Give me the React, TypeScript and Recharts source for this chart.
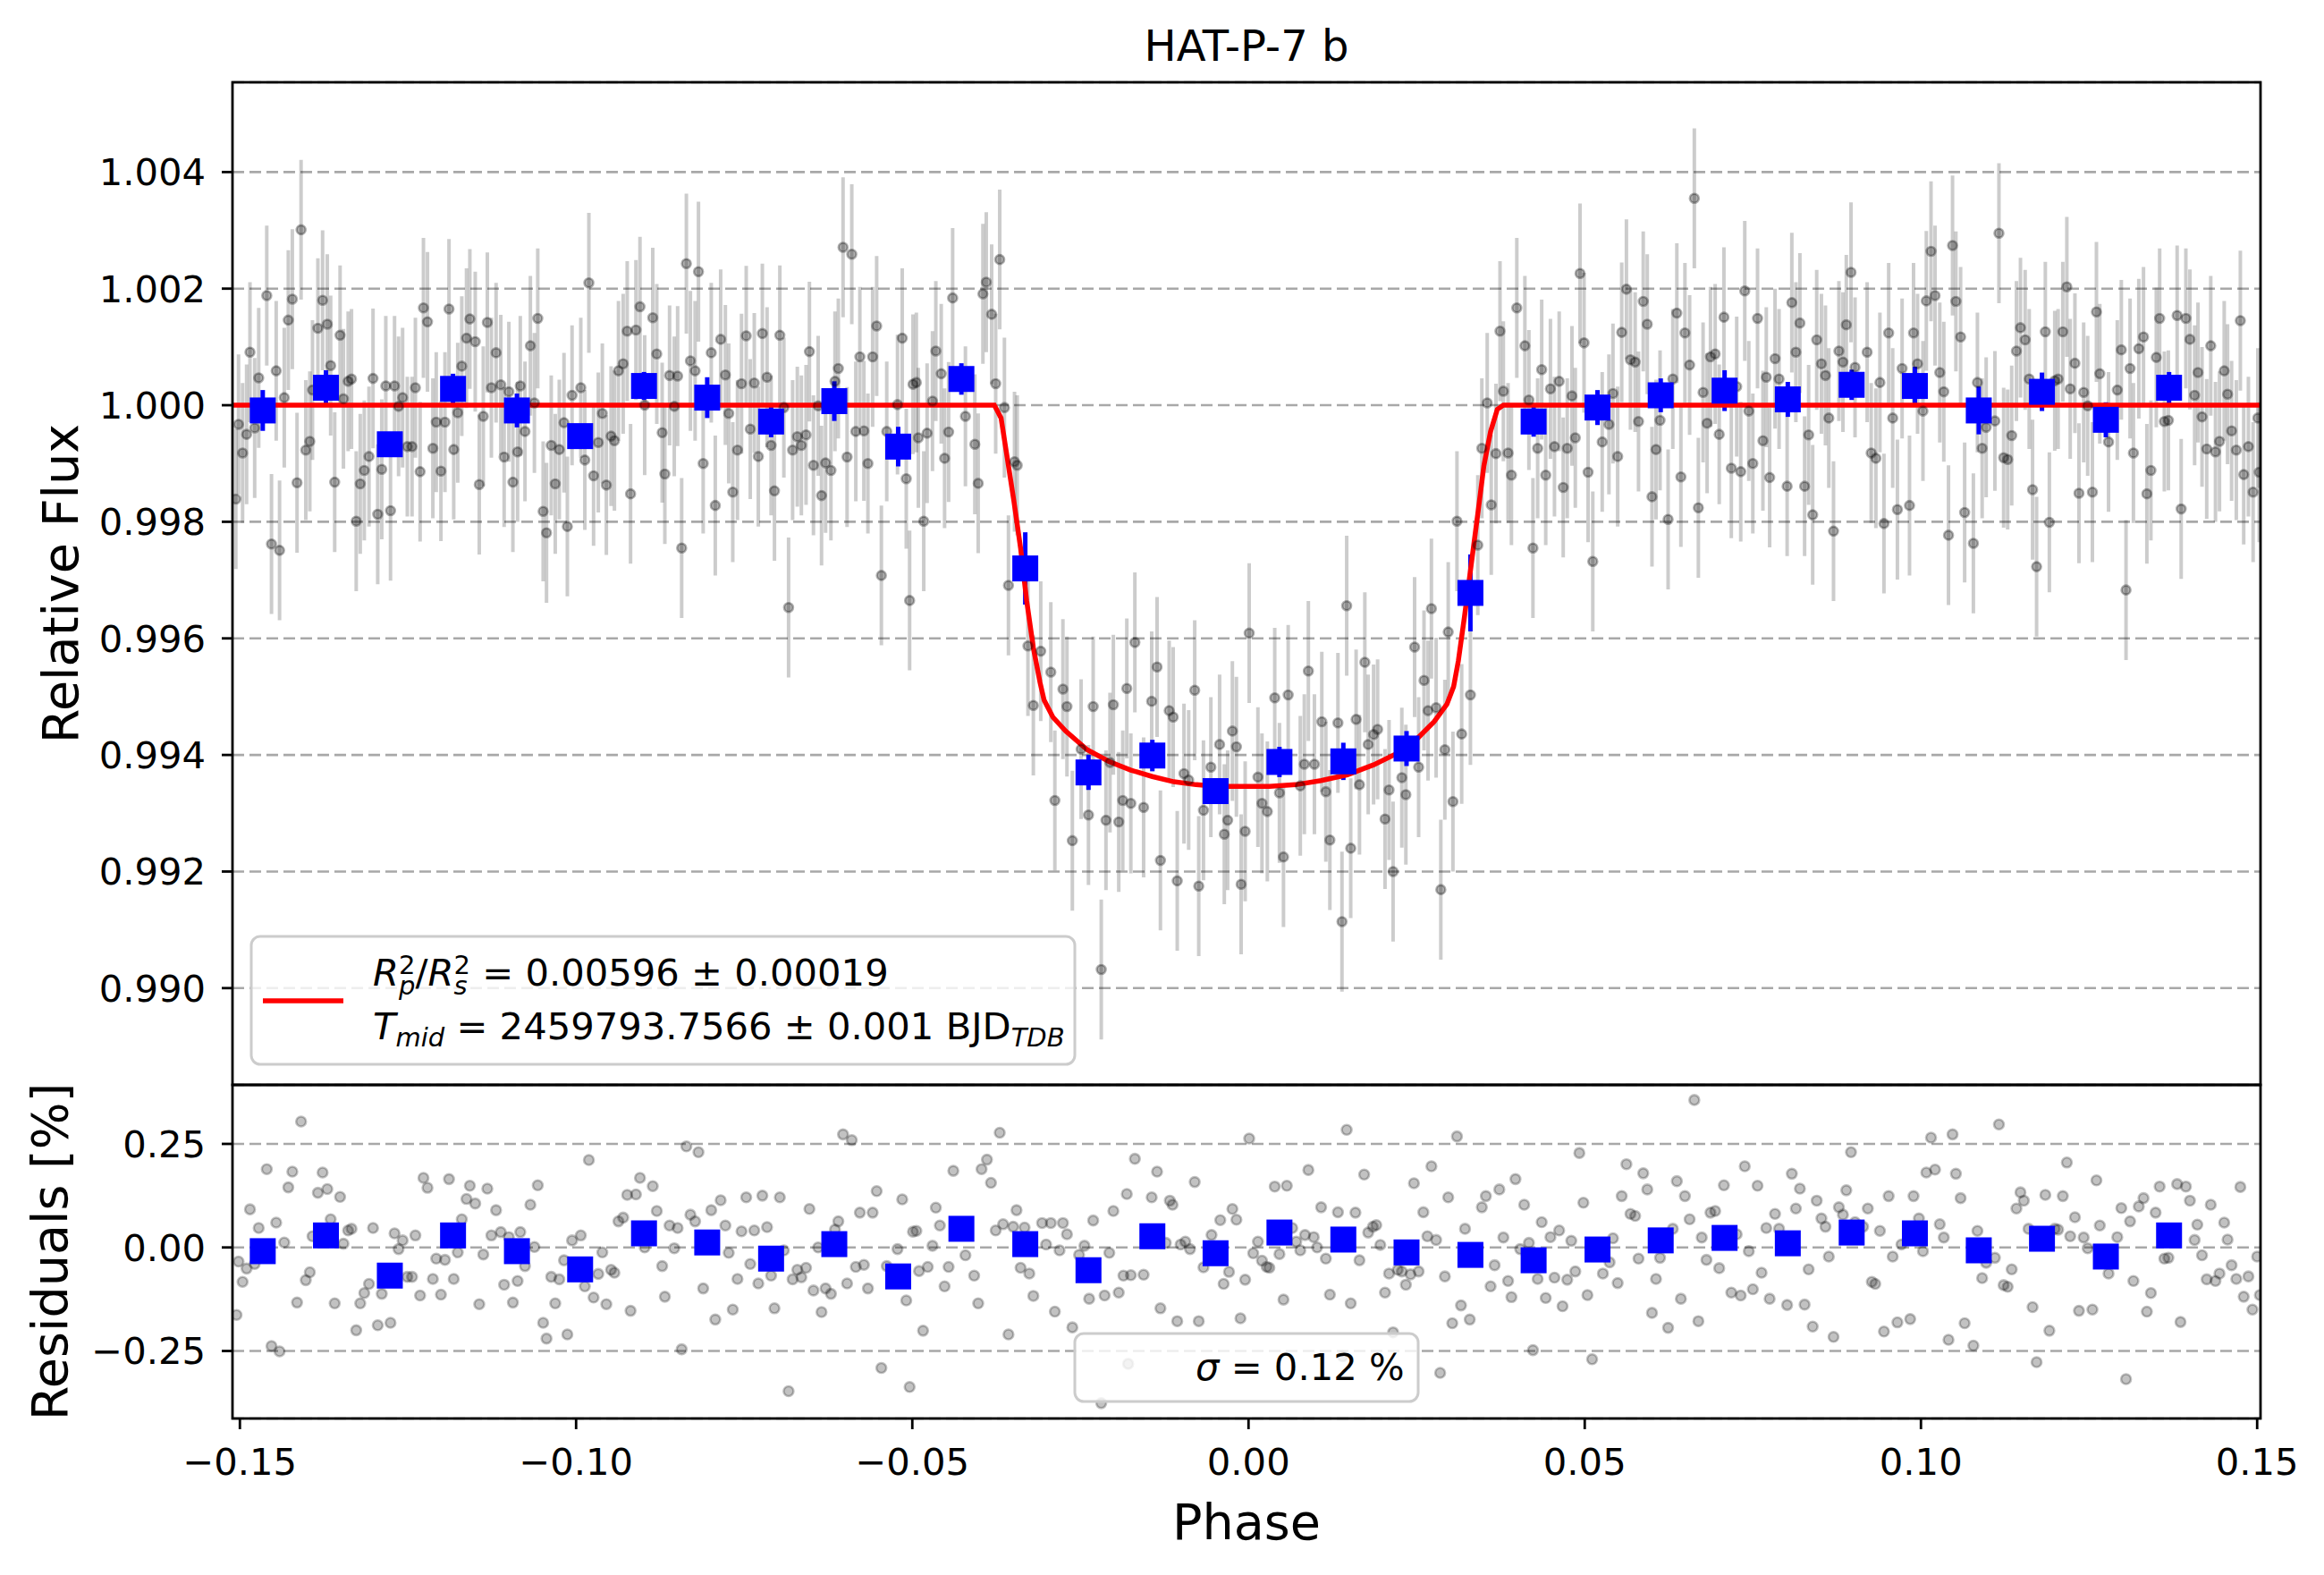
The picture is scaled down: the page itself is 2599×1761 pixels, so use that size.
import { ComposedChart, Scatter, Line, XAxis, YAxis, CartesianGrid, ErrorBar } from "recharts"

// ---- data ----

// unbinned light curve: [phase, relative flux]
const fluxPts: [number, number][] = [
    [-0.1506, 0.99839], [-0.1502, 0.99967], [-0.1496, 0.99918], [-0.1490, 0.9995], [-0.1485, 1.00091],
    [-0.1478, 0.99961], [-0.1472, 1.00047], [-0.1460, 1.00188], [-0.1453, 0.99762], [-0.1446, 1.00059],
    [-0.1441, 0.99751], [-0.1434, 1.00013], [-0.1428, 1.00146], [-0.1422, 1.00182], [-0.1415, 0.99867],
    [-0.1409, 1.00301], [-0.1402, 0.99923], [-0.1396, 0.99938], [-0.1392, 1.00026], [-0.1384, 1.00132],
    [-0.1377, 1.0018], [-0.1370, 1.00139], [-0.1365, 1.00068], [-0.1359, 0.99868], [-0.1351, 1.0012],
    [-0.1346, 1.00011], [-0.1339, 1.00041], [-0.1334, 1.00045], [-0.1327, 0.99801], [-0.1321, 0.99865],
    [-0.1315, 0.99888], [-0.1308, 0.99912], [-0.1302, 1.00046], [-0.1295, 0.99813], [-0.1289, 0.9989],
    [-0.1283, 1.00033], [-0.1276, 0.99819], [-0.1270, 1.00033], [-0.1264, 0.99998], [-0.1258, 1.00013],
    [-0.1251, 0.99929], [-0.1244, 0.99929], [-0.1239, 1.0003], [-0.1232, 0.99886], [-0.1227, 1.00167],
    [-0.1221, 1.00143], [-0.1213, 0.99926], [-0.1208, 0.99971], [-0.1201, 0.99887], [-0.1195, 0.99971],
    [-0.1189, 1.00165], [-0.1182, 0.99924], [-0.1176, 0.99987], [-0.1170, 1.00067], [-0.1163, 1.00115],
    [-0.1158, 1.00148], [-0.1150, 1.00109], [-0.1144, 0.99864], [-0.1138, 0.99981], [-0.1132, 1.00142],
    [-0.1126, 1.0003], [-0.1119, 1.0009], [-0.1112, 1.00035], [-0.1107, 0.99911], [-0.1100, 1.00023],
    [-0.1094, 0.99868], [-0.1087, 0.9992], [-0.1083, 1.00033], [-0.1076, 0.99955], [-0.1068, 1.00102],
    [-0.1062, 1.00004], [-0.1057, 1.00149], [-0.1049, 0.99818], [-0.1044, 0.99781], [-0.1037, 0.99931],
    [-0.1031, 0.99865], [-0.1025, 0.99924], [-0.1018, 0.9997], [-0.1013, 0.99792], [-0.1006, 1.00017],
    [-0.0993, 1.0003], [-0.0987, 0.99906], [-0.0981, 1.0021], [-0.0974, 0.99879], [-0.0967, 0.99936],
    [-0.0961, 0.99986], [-0.0955, 0.99863], [-0.0948, 0.99947], [-0.0943, 0.99939], [-0.0937, 1.00059],
    [-0.0930, 1.00071], [-0.0924, 1.00127], [-0.0919, 0.99848], [-0.0911, 1.00129], [-0.0905, 1.00169],
    [-0.0898, 1.0], [-0.0886, 1.0015], [-0.0880, 1.00088], [-0.0872, 0.99953], [-0.0868, 0.99882],
    [-0.0861, 1.00051], [-0.0854, 0.99998], [-0.0849, 1.0005], [-0.0843, 0.99755], [-0.0836, 1.00243],
    [-0.0830, 1.00076], [-0.0823, 1.00059], [-0.0818, 1.00229], [-0.0811, 0.999], [-0.0799, 1.0009],
    [-0.0793, 0.99828], [-0.0785, 1.00113], [-0.0778, 1.00052], [-0.0773, 0.99986], [-0.0767, 0.99851],
    [-0.0760, 0.99923], [-0.0754, 1.00037], [-0.0747, 1.00119], [-0.0741, 0.99959], [-0.0735, 1.00038],
    [-0.0729, 0.99912], [-0.0723, 1.00123], [-0.0716, 1.00048], [-0.0710, 0.99931], [-0.0705, 0.99853],
    [-0.0697, 1.0012], [-0.0691, 0.99996], [-0.0684, 0.99653], [-0.0678, 0.99923], [-0.0671, 0.99946],
    [-0.0665, 0.99931], [-0.0658, 0.99949], [-0.0653, 1.00092], [-0.0647, 0.99897], [-0.0640, 0.99999],
    [-0.0635, 0.99845], [-0.0629, 0.99901], [-0.0621, 0.99888], [-0.0615, 1.00041], [-0.0610, 1.00063],
    [-0.0603, 1.00271], [-0.0597, 0.99911], [-0.0590, 1.00259], [-0.0584, 0.99955], [-0.0578, 1.00083],
    [-0.0572, 0.99956], [-0.0566, 0.999], [-0.0559, 1.00083], [-0.0553, 1.00136], [-0.0546, 0.99708],
    [-0.0538, 0.99955], [-0.0522, 1.00001], [-0.0515, 1.00115], [-0.0509, 0.99874], [-0.0504, 0.99665],
    [-0.0499, 1.00036],
    [-0.0494, 1.00039], [-0.0491, 0.99944], [-0.0483, 0.99801], [-0.0478, 0.99952], [-0.0470, 1.00007],
    [-0.0465, 1.00093], [-0.0457, 1.00054], [-0.0452, 0.99909], [-0.0446, 0.99954], [-0.0440, 1.00184],
    [-0.0421, 0.99981], [-0.0407, 0.99933], [-0.0402, 0.99866], [-0.0395, 1.00191], [-0.0390, 1.00211],
    [-0.0382, 1.00156], [-0.0376, 1.00037], [-0.0370, 1.0025], [-0.0363, 0.99996], [-0.0357, 0.99691],
    [-0.0348, 0.99903], [-0.0344, 0.99897], [-0.0328, 0.99587], [-0.0320, 0.99485], [-0.0309, 0.99578],
    [-0.0294, 0.99542], [-0.0288, 0.99322], [-0.0276, 0.99513], [-0.0270, 0.99483], [-0.0262, 0.99253],
    [-0.0249, 0.9941], [-0.0238, 0.99297], [-0.0231, 0.99483], [-0.0219, 0.99032], [-0.0212, 0.99288],
    [-0.0206, 0.99387], [-0.0201, 0.99486], [-0.0193, 0.99285], [-0.0187, 0.99322], [-0.0181, 0.99514],
    [-0.0175, 0.99317], [-0.0169, 0.99593], [-0.0156, 0.9931], [-0.0144, 0.99492], [-0.0136, 0.99551],
    [-0.0131, 0.99219], [-0.0118, 0.99476], [-0.0112, 0.99465], [-0.0106, 0.99184], [-0.0096, 0.99368],
    [-0.0089, 0.99357], [-0.0080, 0.99511], [-0.0074, 0.99175], [-0.0067, 0.99305], [-0.0056, 0.99379],
    [-0.0043, 0.99418], [-0.0036, 0.99264], [-0.0031, 0.99288], [-0.0024, 0.99441], [-0.0018, 0.99414],
    [-0.0011, 0.99178], [-0.0005, 0.99269], [0.0001, 0.99609], [0.0014, 0.99362], [0.0020, 0.99317],
    [0.0028, 0.99303], [0.0039, 0.99498], [0.0046, 0.99335], [0.0052, 0.99225], [0.0059, 0.99503],
    [0.0077, 0.99347], [0.0083, 0.99384], [0.0089, 0.99544], [0.0098, 0.99384], [0.0109, 0.99457],
    [0.0115, 0.99337], [0.0121, 0.99254], [0.0133, 0.99455], [0.0139, 0.99114], [0.0146, 0.99656],
    [0.0152, 0.9924], [0.0160, 0.99461], [0.0165, 0.99349], [0.0173, 0.99559], [0.0178, 0.99418],
    [0.0186, 0.99435], [0.0192, 0.99444], [0.0203, 0.9929], [0.0209, 0.9934], [0.0215, 0.992],
    [0.0228, 0.99361], [0.0234, 0.99332], [0.0247, 0.99585], [0.0253, 0.99379], [0.0261, 0.99528],
    [0.0267, 0.99476], [0.0272, 0.99651], [0.0279, 0.99481], [0.0286, 0.99169], [0.0292, 0.99409],
    [0.0297, 0.99611], [0.0304, 0.9932], [0.0310, 0.99801], [0.0317, 0.99436], [0.0330, 0.99503],
    [0.0341, 0.9976], [0.0347, 0.99926], [0.0355, 1.00004], [0.0361, 0.99829], [0.0368, 0.99917],
    [0.0374, 1.00127], [0.0379, 1.00024], [0.0386, 0.99918], [0.0391, 0.9988], [0.0399, 1.00167],
    [0.0411, 1.00102], [0.0417, 1.00009], [0.0423, 0.99755], [0.0430, 0.99926], [0.0436, 1.00061],
    [0.0442, 0.9988], [0.0449, 1.00028], [0.0455, 0.99929], [0.0462, 1.00041], [0.0468, 0.99859],
    [0.0474, 0.99926], [0.0481, 1.00016], [0.0486, 0.99944], [0.0493, 1.00226], [0.0499, 1.00107],
    [0.0505, 0.99885], [0.0512, 0.99732],
    [0.0526, 0.99937], [0.0536, 0.99967], [0.0542, 1.0002], [0.0549, 0.99912], [0.0555, 1.00125],
    [0.0562, 1.00199], [0.0568, 1.00078], [0.0575, 1.00074], [0.0580, 0.99972], [0.0587, 1.00178],
    [0.0593, 1.00139], [0.0600, 0.99843], [0.0606, 0.99924], [0.0612, 0.99974], [0.0624, 0.99804],
    [0.0631, 1.00045], [0.0637, 1.00158], [0.0643, 0.99877], [0.0649, 1.00124], [0.0656, 1.00069],
    [0.0663, 1.00355], [0.0669, 0.99824], [0.0676, 1.00022], [0.0682, 0.99969], [0.0687, 1.00083],
    [0.0694, 1.00088], [0.0700, 0.9995], [0.0707, 1.00151], [0.0718, 0.99892], [0.0726, 1.00032],
    [0.0732, 0.99886], [0.0738, 1.00196], [0.0744, 0.9999], [0.0750, 0.999], [0.0757, 1.00149],
    [0.0765, 0.99939], [0.0770, 1.00048], [0.0775, 0.99876], [0.0783, 1.0008], [0.0789, 1.00045],
    [0.0801, 0.99861], [0.0808, 1.00176], [0.0814, 1.00091], [0.0820, 1.00141], [0.0827, 0.99861],
    [0.0833, 0.99949], [0.0839, 0.99812], [0.0845, 1.00112], [0.0852, 1.00071], [0.0858, 1.00051],
    [0.0863, 0.99978], [0.0870, 0.99784], [0.0878, 1.00093], [0.0884, 1.00074], [0.0889, 1.00138],
    [0.0896, 1.00228], [0.0902, 1.00065], [0.0920, 1.00091], [0.0926, 0.99918], [0.0933, 0.99909],
    [0.0939, 1.00039], [0.0945, 0.99797], [0.0952, 1.00124], [0.0958, 0.99978], [0.0965, 0.99821],
    [0.0972, 1.00063], [0.0983, 0.99828], [0.0989, 1.00124], [0.0995, 1.00071], [0.1003, 0.9999],
    [0.1008, 1.00179], [0.1015, 1.00264], [0.1021, 1.00188], [0.1028, 1.00056], [0.1034, 1.00023],
    [0.1041, 0.99777], [0.1047, 1.00274], [0.1052, 1.00178], [0.1059, 1.00117], [0.1065, 0.99816],
    [0.1078, 0.99763], [0.1084, 1.00039], [0.1091, 0.99926], [0.1097, 0.99962], [0.1110, 0.99973],
    [0.1116, 1.00295], [0.1123, 0.9991], [0.1129, 0.99907], [0.1135, 0.99948], [0.1142, 1.00093],
    [0.1148, 1.00133], [0.1155, 1.00112], [0.1161, 1.00045], [0.1166, 0.99855], [0.1172, 0.99723],
    [0.1185, 1.00126], [0.1191, 0.99799], [0.1199, 1.00042], [0.1204, 1.00045], [0.1211, 1.00126],
    [0.1217, 1.00203], [0.1222, 1.00028], [0.1229, 1.00072], [0.1235, 0.99849], [0.1242, 1.00022],
    [0.1248, 0.99999], [0.1255, 0.99851], [0.1261, 1.0016], [0.1266, 1.00054], [0.1279, 0.99937],
    [0.1292, 1.00026], [0.1298, 1.00095], [0.1305, 0.99683], [0.1311, 1.00063], [0.1316, 0.99918],
    [0.1324, 1.00097], [0.1331, 1.00117], [0.1336, 0.99848], [0.1342, 0.99888], [0.1350, 1.00082],
    [0.1355, 1.00149], [0.1362, 0.99972], [0.1368, 0.99974], [0.1381, 1.00154], [0.1387, 0.99822],
    [0.1394, 1.00149], [0.1400, 1.00113], [0.1407, 1.00017], [0.1412, 1.00056], [0.1418, 0.9998],
    [0.1425, 0.99925], [0.1431, 1.00102], [0.1438, 0.9992], [0.1444, 0.99938], [0.1451, 1.00059],
    [0.1456, 1.00019], [0.1462, 0.99956], [0.1469, 0.99923], [0.1475, 1.00145], [0.1480, 0.99881],
    [0.1487, 0.99929], [0.1494, 0.99851], [0.1501, 0.99978], [0.1503, 0.99885],
]
const FLUX_ERR = 0.0012

// residuals of the unbinned points: [phase, residual in %]
const residPts: [number, number][] = [
    [-0.1505, -0.163], [-0.1502, -0.034], [-0.1496, -0.083], [-0.1490, -0.051], [-0.1485, 0.092],
    [-0.1478, -0.040], [-0.1472, 0.047], [-0.1460, 0.189], [-0.1453, -0.238], [-0.1446, 0.060],
    [-0.1441, -0.251], [-0.1434, 0.012], [-0.1428, 0.145], [-0.1422, 0.183], [-0.1415, -0.133],
    [-0.1409, 0.304], [-0.1402, -0.079], [-0.1396, -0.060], [-0.1392, 0.027], [-0.1384, 0.132],
    [-0.1377, 0.181], [-0.1370, 0.141], [-0.1365, 0.068], [-0.1359, -0.135], [-0.1351, 0.122],
    [-0.1346, 0.009], [-0.1339, 0.041], [-0.1334, 0.045], [-0.1327, -0.200], [-0.1321, -0.135],
    [-0.1315, -0.110], [-0.1308, -0.088], [-0.1302, 0.047], [-0.1295, -0.188], [-0.1289, -0.112],
    [-0.1276, -0.182], [-0.1270, 0.034], [-0.1264, -0.004], [-0.1258, 0.017], [-0.1251, -0.071],
    [-0.1244, -0.071], [-0.1239, 0.029], [-0.1232, -0.116], [-0.1227, 0.168], [-0.1221, 0.144],
    [-0.1213, -0.076], [-0.1208, -0.027], [-0.1201, -0.114], [-0.1195, -0.030], [-0.1189, 0.165],
    [-0.1182, -0.076], [-0.1176, -0.012], [-0.1170, 0.068], [-0.1163, 0.117], [-0.1158, 0.149],
    [-0.1150, 0.106], [-0.1144, -0.137], [-0.1138, -0.017], [-0.1132, 0.142], [-0.1126, 0.029],
    [-0.1119, 0.090], [-0.1112, 0.037], [-0.1107, -0.090], [-0.1100, 0.025], [-0.1094, -0.133],
    [-0.1087, -0.081], [-0.1083, 0.037], [-0.1076, -0.045], [-0.1068, 0.103], [-0.1062, 0.001],
    [-0.1057, 0.150], [-0.1049, -0.182], [-0.1044, -0.220], [-0.1037, -0.071], [-0.1031, -0.135],
    [-0.1025, -0.077], [-0.1018, -0.031], [-0.1013, -0.210], [-0.1006, 0.017], [-0.0993, 0.029],
    [-0.0987, -0.094], [-0.0981, 0.211], [-0.0974, -0.121], [-0.0967, -0.064], [-0.0961, -0.012],
    [-0.0955, -0.137], [-0.0948, -0.054], [-0.0943, -0.061], [-0.0937, 0.063], [-0.0930, 0.072],
    [-0.0924, 0.127], [-0.0919, -0.153], [-0.0911, 0.128], [-0.0905, 0.168], [-0.0898, 0.000],
    [-0.0886, 0.148], [-0.0880, 0.088], [-0.0872, -0.045], [-0.0868, -0.119], [-0.0861, 0.053],
    [-0.0854, -0.002], [-0.0849, 0.047], [-0.0843, -0.246], [-0.0836, 0.244], [-0.0830, 0.079],
    [-0.0823, 0.063], [-0.0818, 0.230], [-0.0811, -0.099], [-0.0799, 0.090], [-0.0793, -0.174],
    [-0.0785, 0.114], [-0.0778, 0.053], [-0.0773, -0.013], [-0.0767, -0.150], [-0.0760, -0.076],
    [-0.0754, 0.039], [-0.0747, 0.121], [-0.0741, -0.040], [-0.0735, 0.041], [-0.0729, -0.087],
    [-0.0723, 0.125], [-0.0716, 0.049], [-0.0710, -0.068], [-0.0705, -0.147], [-0.0697, 0.121],
    [-0.0691, -0.007], [-0.0684, -0.347], [-0.0678, -0.077], [-0.0671, -0.054], [-0.0665, -0.072],
    [-0.0658, -0.049], [-0.0653, 0.093], [-0.0647, -0.104], [-0.0640, 0.000], [-0.0635, -0.156],
    [-0.0629, -0.099], [-0.0621, -0.112], [-0.0615, 0.043], [-0.0610, 0.063], [-0.0603, 0.273],
    [-0.0597, -0.087], [-0.0590, 0.259], [-0.0584, -0.047], [-0.0578, 0.084], [-0.0572, -0.042],
    [-0.0566, -0.099], [-0.0559, 0.084], [-0.0553, 0.136], [-0.0546, -0.291], [-0.0538, -0.045],
    [-0.0522, -0.004], [-0.0515, 0.116], [-0.0509, -0.128], [-0.0504, -0.337], [-0.0499, 0.038],
    [-0.0494, 0.040], [-0.0490, -0.057], [-0.0484, -0.201], [-0.0477, -0.047], [-0.0470, 0.004],
    [-0.0465, 0.096], [-0.0459, 0.053], [-0.0452, -0.094], [-0.0446, -0.047], [-0.0439, 0.185],
    [-0.0421, -0.019], [-0.0408, -0.068], [-0.0402, -0.135], [-0.0397, 0.189], [-0.0389, 0.212],
    [-0.0383, 0.156], [-0.0376, 0.041], [-0.0370, 0.277], [-0.0365, 0.056], [-0.0357, -0.210],
    [-0.0350, 0.050], [-0.0345, 0.090], [-0.0339, -0.049], [-0.0333, 0.048], [-0.0326, -0.063],
    [-0.0320, -0.117], [-0.0307, 0.059], [-0.0301, 0.007], [-0.0294, 0.059], [-0.0288, -0.155],
    [-0.0281, -0.007], [-0.0276, 0.059], [-0.0270, 0.032], [-0.0262, -0.193], [-0.0252, -0.018],
    [-0.0244, 0.004], [-0.0237, -0.124], [-0.0231, 0.065], [-0.0219, -0.376], [-0.0214, -0.116],
    [-0.0207, -0.013], [-0.0201, 0.088], [-0.0193, -0.109], [-0.0186, -0.068], [-0.0181, 0.129],
    [-0.0179, -0.281], [-0.0175, -0.067], [-0.0169, 0.214], [-0.0156, -0.066], [-0.0144, 0.121],
    [-0.0136, 0.183], [-0.0131, -0.147], [-0.0123, 0.011], [-0.0117, 0.113], [-0.0113, 0.103],
    [-0.0106, -0.178], [-0.0101, 0.007], [-0.0094, 0.014], [-0.0087, -0.004], [-0.0080, 0.158],
    [-0.0074, -0.178], [-0.0067, -0.048], [-0.0055, 0.030], [-0.0042, 0.066], [-0.0037, -0.088],
    [-0.0029, -0.059], [-0.0024, 0.093], [-0.0018, 0.067], [-0.0012, -0.171], [-0.0005, -0.078],
    [0.0001, 0.263], [0.0007, -0.014], [0.0014, 0.014], [0.0020, -0.032], [0.0027, -0.047],
    [0.0031, -0.049], [0.0039, 0.147], [0.0046, -0.016], [0.0052, -0.126], [0.0057, 0.149],
    [0.0065, 0.047], [0.0071, 0.014], [0.0077, -0.007], [0.0084, 0.030], [0.0089, 0.187],
    [0.0097, 0.025], [0.0102, 0.000], [0.0108, 0.097], [0.0115, -0.027], [0.0121, -0.114],
    [0.0133, 0.085], [0.0140, -0.263], [0.0146, 0.284], [0.0152, -0.135], [0.0159, 0.084],
    [0.0165, -0.031], [0.0172, 0.176], [0.0178, 0.036], [0.0185, 0.050], [0.0190, 0.054],
    [0.0196, 0.006], [0.0203, -0.109], [0.0209, -0.063], [0.0215, -0.205], [0.0222, -0.054],
    [0.0228, -0.058], [0.0234, -0.090], [0.0241, -0.065], [0.0246, 0.155], [0.0253, -0.058],
    [0.0260, 0.085], [0.0266, 0.027], [0.0272, 0.196], [0.0279, 0.018], [0.0285, -0.303],
    [0.0292, -0.070], [0.0297, 0.121], [0.0303, -0.183], [0.0310, 0.268], [0.0316, -0.140],
    [0.0322, 0.045], [0.0329, -0.174], [0.0347, 0.097], [0.0353, 0.124], [0.0360, -0.094],
    [0.0366, -0.043], [0.0373, 0.140], [0.0379, 0.024], [0.0386, -0.081], [0.0391, -0.120],
    [0.0397, 0.165], [0.0404, -0.004], [0.0410, 0.103], [0.0417, 0.011], [0.0423, -0.248],
    [0.0430, -0.076], [0.0436, 0.061], [0.0442, -0.122], [0.0449, 0.025], [0.0455, -0.073],
    [0.0462, 0.041], [0.0467, -0.142], [0.0474, -0.078], [0.0480, 0.016], [0.0486, -0.058],
    [0.0492, 0.228], [0.0498, 0.108], [0.0504, -0.115], [0.0511, -0.270],
    [0.0527, -0.063], [0.0537, -0.036], [0.0542, 0.022], [0.0549, -0.086], [0.0555, 0.124],
    [0.0562, 0.201], [0.0568, 0.081], [0.0575, 0.076], [0.0580, -0.027], [0.0587, 0.179],
    [0.0593, 0.140], [0.0600, -0.158], [0.0606, -0.076], [0.0612, -0.025], [0.0624, -0.194],
    [0.0631, 0.045], [0.0637, 0.160], [0.0643, -0.124], [0.0649, 0.124], [0.0656, 0.068],
    [0.0663, 0.356], [0.0669, -0.178], [0.0674, 0.024], [0.0681, -0.030], [0.0687, 0.084],
    [0.0694, 0.088], [0.0700, -0.050], [0.0707, 0.150], [0.0718, -0.109], [0.0726, 0.032],
    [0.0732, -0.116], [0.0738, 0.196], [0.0744, -0.009], [0.0750, -0.101], [0.0757, 0.149],
    [0.0763, -0.061], [0.0770, 0.047], [0.0775, -0.124], [0.0783, 0.081], [0.0789, 0.045],
    [0.0801, -0.139], [0.0808, 0.178], [0.0814, 0.094], [0.0820, 0.142], [0.0827, -0.138],
    [0.0833, -0.053], [0.0839, -0.191], [0.0845, 0.113], [0.0852, 0.070], [0.0858, 0.050],
    [0.0863, -0.022], [0.0870, -0.216], [0.0878, 0.097], [0.0884, 0.079], [0.0889, 0.138],
    [0.0896, 0.230], [0.0902, 0.061], [0.0914, 0.050], [0.0921, 0.094], [0.0927, -0.083],
    [0.0932, -0.088], [0.0939, 0.040], [0.0945, -0.203], [0.0952, 0.124], [0.0958, -0.022],
    [0.0965, -0.181], [0.0971, 0.007], [0.0984, -0.173], [0.0989, 0.124], [0.0997, 0.070],
    [0.1003, -0.009], [0.1008, 0.181], [0.1015, 0.265], [0.1021, 0.188], [0.1028, 0.056],
    [0.1034, 0.024], [0.1041, -0.223], [0.1047, 0.273], [0.1052, 0.178], [0.1059, 0.119],
    [0.1065, -0.183], [0.1078, -0.237], [0.1084, 0.040], [0.1091, -0.074], [0.1097, -0.037],
    [0.1110, -0.025], [0.1116, 0.297], [0.1123, -0.091], [0.1129, -0.095], [0.1135, -0.053],
    [0.1142, 0.094], [0.1148, 0.133], [0.1153, 0.113], [0.1160, 0.045], [0.1166, -0.144],
    [0.1172, -0.277], [0.1185, 0.127], [0.1191, -0.201], [0.1199, 0.045], [0.1204, 0.043],
    [0.1211, 0.124], [0.1217, 0.205], [0.1222, 0.027], [0.1229, 0.073], [0.1235, -0.153],
    [0.1242, 0.024], [0.1248, -0.002], [0.1255, -0.150], [0.1261, 0.162], [0.1266, 0.053],
    [0.1279, -0.063], [0.1292, 0.025], [0.1298, 0.095], [0.1305, -0.318], [0.1311, 0.063],
    [0.1316, -0.081], [0.1324, 0.099], [0.1331, 0.119], [0.1336, -0.155], [0.1342, -0.110],
    [0.1349, 0.084], [0.1355, 0.147], [0.1362, -0.027], [0.1368, -0.025], [0.1381, 0.153],
    [0.1386, -0.180], [0.1394, 0.147], [0.1400, 0.113], [0.1407, 0.018], [0.1411, 0.055],
    [0.1418, -0.019], [0.1425, -0.077], [0.1431, 0.103], [0.1438, -0.081], [0.1444, -0.063],
    [0.1451, 0.060], [0.1456, 0.019], [0.1462, -0.043], [0.1469, -0.076], [0.1475, 0.146],
    [0.1480, -0.119], [0.1487, -0.070], [0.1493, -0.150], [0.1500, -0.022], [0.1504, -0.115],
]

// binned points (blue squares)
const binPhase = [
    -0.1466, -0.1372, -0.1277, -0.1183, -0.1088, -0.0994, -0.0899, -0.0805, -0.0710, -0.0616,
    -0.0521, -0.0427, -0.0332, -0.0238, -0.0143, -0.0049, 0.0046, 0.0141, 0.0235, 0.0330,
    0.0424, 0.0519, 0.0613, 0.0708, 0.0802, 0.0897, 0.0991, 0.1086, 0.1180, 0.1275, 0.1369,
]
const binFlux = [
    0.99991, 1.0003, 0.99933, 1.00028, 0.99991, 0.99947, 1.00033, 1.00013, 0.99972, 1.00007,
    0.99929, 1.00045, 0.9972, 0.9937, 0.99399, 0.99338, 0.99388, 0.99389, 0.99411, 0.99678,
    0.99972, 0.99996, 1.00017, 1.00025, 1.0001, 1.00035, 1.00033, 0.99991, 1.00023, 0.99975, 1.0003,
]
const binErr = [
    0.00035, 0.0003, 0.0002, 0.00026, 0.00029, 0.0002, 0.00024, 0.00035, 0.00027, 0.00034,
    0.00034, 0.00027, 0.00062, 0.0003, 0.00027, 0.00022, 0.00026, 0.00032, 0.0003, 0.00066,
    0.00026, 0.0003, 0.00029, 0.00035, 0.0003, 0.00026, 0.00033, 0.00041, 0.00033, 0.0003, 0.00027,
]
const binResid = [
    -0.009, 0.029, -0.068, 0.029, -0.009, -0.053, 0.034, 0.012, -0.027, 0.008,
    -0.070, 0.045, 0.008, -0.055, 0.027, -0.014, 0.036, 0.019, -0.012, -0.018,
    -0.031, -0.005, 0.017, 0.023, 0.010, 0.036, 0.034, -0.007, 0.021, -0.022, 0.029,
]

// transit model (red curve)
const modelPts: [number, number][] = [
    [-0.1511, 1.0], [-0.0378, 1.0], [-0.0368, 0.99978], [-0.0359, 0.99911], [-0.0349, 0.99836],
    [-0.0339, 0.99755], [-0.0330, 0.99665], [-0.0320, 0.99584], [-0.0310, 0.99524], [-0.0304, 0.99494],
    [-0.0291, 0.99465], [-0.0272, 0.99441], [-0.0240, 0.99409], [-0.0208, 0.99389], [-0.0175, 0.99374],
    [-0.0143, 0.99363], [-0.0111, 0.99354], [-0.0078, 0.99349], [-0.0046, 0.99346], [-0.0007, 0.99346],
    [0.0031, 0.99346], [0.0070, 0.99349], [0.0108, 0.99356], [0.0147, 0.99366], [0.0186, 0.99383],
    [0.0218, 0.99401], [0.0250, 0.99427], [0.0276, 0.99457], [0.0295, 0.99487], [0.0305, 0.99517],
    [0.0312, 0.99561], [0.0321, 0.99636], [0.0331, 0.99725], [0.0341, 0.99814], [0.0350, 0.99896],
    [0.0360, 0.99955], [0.0370, 0.99993], [0.0379, 1.0], [0.1505, 1.0],
]

const phaseTicks = [-0.15, -0.1, -0.05, 0, 0.05, 0.1, 0.15]
const fluxTicks = [0.99, 0.992, 0.994, 0.996, 0.998, 1.0, 1.002, 1.004]
const residTicks = [-0.25, 0, 0.25]

// ---- layout ----
const W = 2599
const H = 1761
const LEFT = 260
const RIGHT = 2528
const TOP = 92
const SPLIT = 1213
const BOTTOM = 1586
const FONT = "DejaVu Sans"
const TICK_FS = 41.7
const LABEL_FS = 55.6

const fluxData = fluxPts.map(([x, y]) => ({ x, y, e: FLUX_ERR }))
const residData = residPts.map(([x, y]) => ({ x, y }))
const binData = binPhase.map((x, i) => ({ x, y: binFlux[i], e: binErr[i] }))
const binResidData = binPhase.map((x, i) => ({ x, y: binResid[i] }))
const modelData = modelPts.map(([x, y]) => ({ x, y }))

const signed = (d: number) => (v: number) => (v < 0 ? "\u2212" : "") + Math.abs(v).toFixed(d)

const grayDot = (r: number, a: number) => (p: any) =>
    p.cx == null || isNaN(p.cx) ? <g /> : (
        <circle cx={p.cx} cy={p.cy} r={r} fill={`rgba(0,0,0,${a})`} stroke={`rgba(0,0,0,${a})`} strokeWidth={2.6} />
    )

const blueSquare = (p: any) =>
    p.cx == null || isNaN(p.cx) ? <g /> : (
        <rect x={p.cx - 14.5} y={p.cy - 14.5} width={29} height={29} fill="#0000ff" />
    )

const tickStyle = { fill: "#000", fontSize: TICK_FS, fontFamily: FONT }
const tickLine = { stroke: "#000", strokeWidth: 2.8 }

export default function App() {
    const xDomain: [number, number] = [-0.1511, 0.1505]
    return (
        <div style={{ position: "absolute", left: 0, top: 0, width: W, height: H, background: "#fff", fontFamily: FONT }}>
            <div style={{ position: "absolute", left: 0, top: 0 }}>
                <ComposedChart width={W} height={SPLIT} margin={{ top: TOP, right: W - RIGHT, bottom: 0, left: LEFT - 150 }}>
                    <CartesianGrid vertical={false} stroke="#a8a8a8" strokeWidth={2.6} strokeDasharray="13 6" />
                    <XAxis type="number" dataKey="x" domain={xDomain} allowDataOverflow hide ticks={phaseTicks} />
                    <YAxis
                        type="number"
                        width={150}
                        domain={[0.98834, 1.00554]}
                        allowDataOverflow
                        ticks={fluxTicks}
                        interval={0}
                        tickFormatter={(v: number) => v.toFixed(3)}
                        tick={tickStyle}
                        tickLine={tickLine}
                        tickSize={12}
                        tickMargin={18}
                        axisLine={false}
                    />
                    <Scatter data={fluxData} dataKey="y" shape={grayDot(5, 0.3)} isAnimationActive={false}>
                        <ErrorBar dataKey="e" direction="y" width={0} stroke="rgba(0,0,0,0.2)" strokeWidth={4} isAnimationActive={false} />
                    </Scatter>
                    <Scatter data={binData} dataKey="y" shape={blueSquare} isAnimationActive={false}>
                        <ErrorBar dataKey="e" direction="y" width={0} stroke="#0000ff" strokeWidth={5} isAnimationActive={false} />
                    </Scatter>
                    <Line data={modelData} dataKey="y" type="linear" stroke="#ff0000" strokeWidth={5.5} dot={false} activeDot={false} isAnimationActive={false} />
                </ComposedChart>
            </div>
            <div style={{ position: "absolute", left: 0, top: SPLIT }}>
                <ComposedChart width={W} height={H - SPLIT} margin={{ top: 0, right: W - RIGHT, bottom: 0, left: LEFT - 150 }}>
                    <CartesianGrid vertical={false} stroke="#a8a8a8" strokeWidth={2.6} strokeDasharray="13 6" />
                    <XAxis
                        type="number"
                        dataKey="x"
                        domain={xDomain}
                        allowDataOverflow
                        ticks={phaseTicks}
                        interval={0}
                        height={H - BOTTOM}
                        tickFormatter={signed(2)}
                        tick={tickStyle}
                        tickLine={tickLine}
                        tickSize={12}
                        tickMargin={21}
                        axisLine={false}
                    />
                    <YAxis
                        type="number"
                        width={150}
                        domain={[-0.413, 0.3925]}
                        allowDataOverflow
                        ticks={residTicks}
                        interval={0}
                        tickFormatter={signed(2)}
                        tick={tickStyle}
                        tickLine={tickLine}
                        tickSize={12}
                        tickMargin={18}
                        axisLine={false}
                    />
                    <Scatter data={residData} dataKey="y" shape={grayDot(5.5, 0.24)} isAnimationActive={false} />
                    <Scatter data={binResidData} dataKey="y" shape={blueSquare} isAnimationActive={false} />
                </ComposedChart>
            </div>
            <svg
                width={W}
                height={H}
                style={{ position: "absolute", left: 0, top: 0, pointerEvents: "none" }}
                fontFamily={FONT}
            >
                {/* axes frames */}
                <rect x={LEFT} y={TOP} width={RIGHT - LEFT} height={SPLIT - TOP} fill="none" stroke="#000" strokeWidth={2.8} />
                <rect x={LEFT} y={SPLIT} width={RIGHT - LEFT} height={BOTTOM - SPLIT} fill="none" stroke="#000" strokeWidth={2.8} />

                {/* titles */}
                <text x={(LEFT + RIGHT) / 2} y={68} textAnchor="middle" fontSize={48}>HAT-P-7 b</text>
                <text transform={`translate(87, ${(TOP + SPLIT) / 2}) rotate(-90)`} textAnchor="middle" fontSize={LABEL_FS}>Relative Flux</text>
                <text transform={`translate(75, ${(SPLIT + BOTTOM) / 2}) rotate(-90)`} textAnchor="middle" fontSize={LABEL_FS}>Residuals [%]</text>
                <text x={(LEFT + RIGHT) / 2} y={1721} textAnchor="middle" fontSize={LABEL_FS}>Phase</text>

                {/* fit legend */}
                <rect x={281} y={1047} width={921} height={143} rx={10} fill="#fff" fillOpacity={0.8} stroke="#cccccc" strokeWidth={3} />
                <line x1={294} x2={384} y1={1119} y2={1119} stroke="#ff0000" strokeWidth={5.5} />
                <text x={417} y={1102} fontSize={TICK_FS} style={{ whiteSpace: "pre" }}>
                    <tspan fontStyle="italic">R</tspan>
                    <tspan fontSize={29} dy={-13}>2</tspan>
                    <tspan fontSize={29} fontStyle="italic" dx={-18.4} dy={23}>p</tspan>
                    <tspan dy={-10}>/</tspan>
                    <tspan fontStyle="italic">R</tspan>
                    <tspan fontSize={29} dy={-13}>2</tspan>
                    <tspan fontSize={29} fontStyle="italic" dx={-18.4} dy={23}>s</tspan>
                    <tspan dx={3.4} dy={-10}>{" = 0.00596 \u00b1 0.00019"}</tspan>
                </text>
                <text x={417} y={1162} fontSize={TICK_FS} style={{ whiteSpace: "pre" }}>
                    <tspan fontStyle="italic">T</tspan>
                    <tspan fontSize={29} fontStyle="italic" dy={8}>mid</tspan>
                    <tspan dy={-8}>{" = 2459793.7566 \u00b1 0.001 BJD"}</tspan>
                    <tspan fontSize={29} fontStyle="italic" dy={8}>TDB</tspan>
                </text>

                {/* scatter legend */}
                <rect x={1202} y={1491} width={384} height={76} rx={10} fill="#fff" fillOpacity={0.8} stroke="#cccccc" strokeWidth={3} />
                <text x={1337} y={1543} fontSize={TICK_FS} style={{ whiteSpace: "pre" }}>
                    <tspan fontStyle="italic">{"\u03c3"}</tspan>
                    <tspan>{" = 0.12 %"}</tspan>
                </text>
            </svg>
        </div>
    )
}
